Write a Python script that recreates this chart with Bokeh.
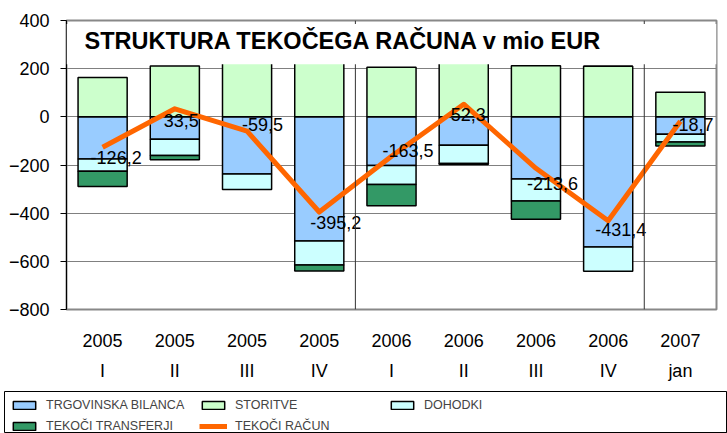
from bokeh.plotting import figure
from bokeh.layouts import column
from bokeh.models import (FactorRange, Range1d, FixedTicker, Span,
                          BoxAnnotation, Label, Legend, LegendItem, ColumnDataSource)
from bokeh.core.properties import value
from bokeh.embed import file_html
from bokeh.resources import INLINE

# ---- data ----
years = ["2005", "2005", "2005", "2005", "2006", "2006", "2006", "2006", "2007"]
quarters = ["I", "II", "III", "IV", "I", "II", "III", "IV", "jan"]
trgovinska = [-175, -93, -237, -516, -202, -118, -258, -540.5, -72]
storitve = [163, 211.5, 242, 244.8, 206, 250.3, 212, 210.1, 102]
dohodki = [-51, -68, -65, -99, -79, -76, -91, -101, -32]
transferji = [-63, -17, 0, -25, -88.5, -4, -76.6, 0, -16.7]
tekoci = [-126.2, 33.5, -59.5, -395.2, -163.5, 52.3, -213.6, -431.4, -18.7]
y_ticks = [-800, -600, -400, -200, 0, 200, 400]

factors = [f"{y}\n{q}" for y, q in zip(years, quarters)]

# label placement (screen px offsets, style only)
lbl_dx = [-12, -11, -5, -9, -9, -13, -9, -13, -8]
lbl_dy = [10, 12, -7, 10, -6, 10, 15, 9, 3]

FONT = "Liberation Sans"

series = [("TRGOVINSKA BILANCA", trgovinska, "#99CCFF"),
          ("STORITVE", storitve, "#CCFFCC"),
          ("DOHODKI", dohodki, "#CCFFFF"),
          ("TEKOČI TRANSFERJI", transferji, "#339966")]
LINE_NAME, LINE_COLOR = "TEKOČI RAČUN", "#FF6600"

p = figure(width=727, height=386, x_range=FactorRange(*factors), y_range=Range1d(-800, 400),
           output_backend="svg", toolbar_location=None, frame_align=False,
           min_border_left=66, min_border_right=11, min_border_top=20, min_border_bottom=77)

# stacking (Excel style: positives up, negatives down)
pos = [0.0] * len(factors)
neg = [0.0] * len(factors)
for name, vals, col in series:
    bottoms, tops = [], []
    for i, v in enumerate(vals):
        if v >= 0:
            bottoms.append(pos[i]); tops.append(pos[i] + v); pos[i] += v
        else:
            tops.append(neg[i]); bottoms.append(neg[i] + v); neg[i] += v
    src = ColumnDataSource(dict(x=factors, top=tops, bottom=bottoms))
    p.vbar(x="x", top="top", bottom="bottom", width=0.68, source=src,
           fill_color=col, line_color="black", line_width=1.5)

line_src = ColumnDataSource(dict(x=factors, y=tekoci))
p.line(x="x", y="y", source=line_src, line_color=LINE_COLOR, line_width=5, line_join="round")

lbl_src = ColumnDataSource(dict(x=factors, y=tekoci,
                                t=[f"{v:.1f}".replace(".", ",") for v in tekoci],
                                dx=lbl_dx, dy=lbl_dy))
p.text(x="x", y="y", text="t", x_offset="dx", y_offset="dy", source=lbl_src,
       text_align="left", text_baseline="middle", text_font=value(FONT),
       text_font_size="18px", text_color="black")

# separators between years
for loc in (4, 8):
    p.add_layout(Span(location=loc, dimension="height", line_color="#333333", line_width=1))

# title box
p.add_layout(BoxAnnotation(bottom=218, top=385, fill_color="white", fill_alpha=1.0,
                           line_alpha=0))
p.add_layout(Label(x=0, y=315, x_offset=18, text="STRUKTURA TEKOČEGA RAČUNA v mio EUR",
                   text_font=FONT, text_font_size="23.5px", text_font_style="bold",
                   text_baseline="middle", text_color="black"))

# axes & grid
p.xgrid.visible = False
p.ygrid.grid_line_color = "#808080"
p.ygrid.grid_line_width = 1
p.yaxis.ticker = FixedTicker(ticks=y_ticks)
p.yaxis.axis_line_color = "black"
p.yaxis.major_tick_out = 6
p.yaxis.major_tick_in = 0
p.yaxis.minor_tick_line_color = None
p.yaxis.major_label_text_font = FONT
p.yaxis.major_label_text_font_size = "18px"
p.yaxis.major_label_text_color = "black"
p.yaxis.major_label_standoff = 11

xa = p.xaxis[0]
xa.axis_line_color = None
xa.major_tick_line_color = None
xa.major_label_text_font = FONT
xa.major_label_text_font_size = "18px"
xa.major_label_text_line_height = 1.5
xa.major_label_text_color = "black"
xa.major_label_standoff = 15

p.outline_line_color = "#888888"
p.outline_line_width = 2

# legend strip below the chart (swatch renderers sit outside the visible range)
pl = figure(width=727, height=47, x_range=Range1d(0, 1), y_range=Range1d(0, 1),
            x_axis_type=None, y_axis_type=None, output_backend="svg", toolbar_location=None,
            frame_align=False, min_border_left=4, min_border_top=5, min_border_right=0,
            min_border_bottom=0, outline_line_color="black", outline_line_width=1)
pl.grid.visible = False
items = []
for name, vals, col in series:
    r = pl.vbar(x=[5], top=[1], bottom=[0], width=0.5, fill_color=col,
                line_color="black", line_width=1.5)
    items.append(LegendItem(label=name, renderers=[r]))
rl = pl.line(x=[5, 6], y=[0, 0], line_color=LINE_COLOR, line_width=5)
items.append(LegendItem(label=LINE_NAME, renderers=[rl]))

legend = Legend(items=items, orientation="horizontal", ncols=3,
                location=(6, 0),
                label_text_font=FONT, label_text_font_size="12.5px",
                glyph_width=28, glyph_height=10, label_height=13, label_width=146,
                label_standoff=8, spacing=7, padding=7,
                border_line_color=None, background_fill_alpha=0.0)
pl.add_layout(legend, "center")

open("out.html", "w").write(file_html(column(p, pl), INLINE))
